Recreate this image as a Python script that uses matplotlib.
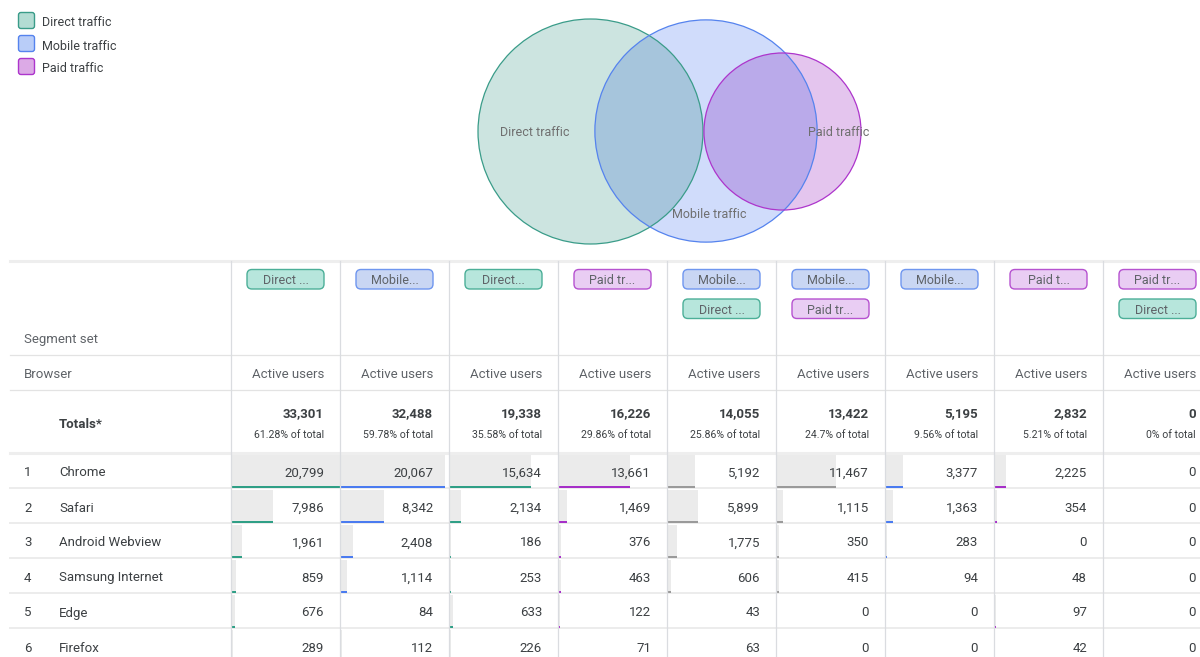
import matplotlib
matplotlib.use("Agg")
import matplotlib.pyplot as plt
from matplotlib.patches import Circle, FancyBboxPatch, Rectangle
from matplotlib.colors import to_rgb

plt.rcParams['font.family'] = ['Roboto', 'DejaVu Sans']

# ---------------- data ----------------
segment_names = ["Direct traffic", "Mobile traffic", "Paid traffic"]
segment_sizes = [33301, 32488, 16226]

col_chips = [["Direct ..."], ["Mobile..."], ["Direct..."], ["Paid tr..."],
             ["Mobile...", "Direct ..."], ["Mobile...", "Paid tr..."],
             ["Mobile..."], ["Paid t..."], ["Paid tr...", "Direct ..."]]
col_chip_kind = [["D"], ["M"], ["D"], ["P"], ["M", "D"], ["M", "P"], ["M"], ["P"], ["P", "D"]]
col_bar_kind = ["D", "M", "D", "P", "G", "G", "M", "P", "P"]
metric = "Active users"
totals = [33301, 32488, 19338, 16226, 14055, 13422, 5195, 2832, 0]
pct_of_total = ["61.28", "59.78", "35.58", "29.86", "25.86", "24.7", "9.56", "5.21", "0"]

browsers = ["Chrome", "Safari", "Android Webview", "Samsung Internet", "Edge", "Firefox"]
chrome = [20799, 20067, 15634, 13661, 5192, 11467, 3377, 2225, 0]
safari = [7986, 8342, 2134, 1469, 5899, 1115, 1363, 354, 0]
android_webview = [1961, 2408, 186, 376, 1775, 350, 283, 0, 0]
samsung_internet = [859, 1114, 253, 463, 606, 415, 94, 48, 0]
edge = [676, 84, 633, 122, 43, 0, 0, 97, 0]
firefox = [289, 112, 226, 71, 63, 0, 0, 42, 0]
rows = [chrome, safari, android_webview, samsung_internet, edge, firefox]

# ---------------- style ----------------
fill = {"D": "#cce4e0", "M": "#d0dcfb", "P": "#e4c5ee"}
edge_c = {"D": "#3a9c89", "M": "#5583ee", "P": "#ad35cc"}
chip_fill = {"D": "#b7e6dc", "M": "#c9d6f3", "P": "#e9cdf3"}
chip_edge = {"D": "#4caf98", "M": "#6f96ef", "P": "#b652d0"}
bar_line = {"D": "#2f9f86", "M": "#4a7bf0", "P": "#a62fc8", "G": "#9a9a9a"}
txt = "#3c4043"
sub = "#5f6368"
grid = "#dadce0"
dy = 2.0  # text baseline nudge (px)


def multiply(c1, c2):
    a, b = to_rgb(c1), to_rgb(c2)
    return tuple(x * y for x, y in zip(a, b))


fig = plt.figure(figsize=(12, 6.57), dpi=100)
ax = fig.add_axes([0, 0, 1, 1])
ax.set_xlim(0, 1200)
ax.set_ylim(657, 0)
ax.axis("off")

# ---------------- legend ----------------
keys = ["D", "M", "P"]
legend_fill = {"D": "#b3dcd3", "M": "#b9cdf8", "P": "#dcaae6"}
for i, (name, k) in enumerate(zip(segment_names, keys)):
    y0 = 12.5 + 23 * i
    ax.add_patch(FancyBboxPatch((18.5, y0), 16, 16, boxstyle="round,pad=0,rounding_size=2.5",
                                fc=legend_fill[k], ec=edge_c[k], lw=1.0))
    ax.text(42, y0 + 8.5 + dy, name, fontsize=9, color=txt, va="center", ha="left")

# ---------------- venn ----------------
scale = 112.5 / segment_sizes[0] ** 0.5
centers = [(590.5, 131.5), (706, 131), (782.5, 131.5)]
radii = [scale * s ** 0.5 for s in segment_sizes]
base = []
for (cx, cy), r, k in zip(centers, radii, keys):
    c = Circle((cx, cy), r, fc=fill[k], ec="none", zorder=2)
    ax.add_patch(c)
    base.append(c)
# overlaps (multiply blend)
for a, b in [(0, 1), (1, 2), (0, 2)]:
    (cx, cy), r = centers[b], radii[b]
    ov = Circle((cx, cy), r, fc=multiply(fill[keys[a]], fill[keys[b]]), ec="none", zorder=2.5)
    ax.add_patch(ov)
    ov.set_clip_path(base[a])
for (cx, cy), r, k in zip(centers, radii, keys):
    ax.add_patch(Circle((cx, cy), r, fc="none", ec=edge_c[k], lw=0.9, zorder=3))
ax.text(535, 131 + dy, "Direct traffic", fontsize=9, color="#6f6f6f", ha="center", va="center", zorder=4)
ax.text(709, 213 + dy, "Mobile traffic", fontsize=9, color="#6f6f6f", ha="center", va="center", zorder=4)
ax.text(839, 131 + dy, "Paid traffic", fontsize=9, color="#6f6f6f", ha="center", va="center", zorder=4)

# ---------------- table ----------------
x0 = 231
cw = 109
top = 261
row_top = 453
rh = 35
ncol = len(totals)

ax.plot([10, 1200], [top, top], color="#eeeeee", lw=2.2, zorder=1)
ax.plot([10, 1200], [355, 355], color="#e3e3e3", lw=0.9, zorder=1)
ax.plot([10, 1200], [390, 390], color="#e3e3e3", lw=0.9, zorder=1)
ax.plot([10, 1200], [row_top, row_top], color="#eeeeee", lw=2.2, zorder=1)
for i in range(1, len(rows)):
    yy = row_top + rh * i
    ax.plot([10, 1200], [yy, yy], color="#ececec", lw=1.4, zorder=1)

for j in range(ncol):
    xx = x0 + cw * j
    ax.plot([xx, xx], [top, 657], color=grid, lw=0.9, zorder=5)

ax.text(24, 338 + dy, "Segment set", fontsize=9.5, color=sub, va="center")
ax.text(24, 373 + dy, "Browser", fontsize=9.5, color=sub, va="center")
ax.text(59, 423 + dy, "Totals*", fontsize=9.5, color=txt, va="center", fontweight="bold")

gmax = max(max(r) for r in rows)
for j in range(ncol):
    left = x0 + cw * j
    right = left + cw
    cx = left + cw / 2
    for m, (label, k) in enumerate(zip(col_chips[j], col_chip_kind[j])):
        w = 77
        ax.add_patch(FancyBboxPatch((cx - w / 2, 269.5 + 29.5 * m), w, 19.5,
                                    boxstyle="round,pad=0,rounding_size=5",
                                    fc=chip_fill[k], ec=chip_edge[k], lw=1.0, zorder=3))
        ax.text(cx, 279.5 + dy * 0.6 + 29.5 * m, label, fontsize=9, color=sub, ha="center",
                va="center", zorder=4)
    ax.text(right - 16, 373 + dy, metric, fontsize=9.5, color=sub, ha="right", va="center")
    ax.text(right - 16, 412 + dy, f"{totals[j]:,}", fontsize=9.5, color=txt, ha="right",
            va="center", fontweight="bold")
    ax.text(right - 16, 433 + dy, f"{pct_of_total[j]}% of total", fontsize=7.6, color=txt,
            ha="right", va="center")

for i, (name, vals) in enumerate(zip(browsers, rows)):
    yt = row_top + rh * i
    yc = yt + rh / 2 + 0.5 + dy
    ax.text(24, yc, str(i + 1), fontsize=9.5, color=txt, va="center")
    ax.text(59, yc, name, fontsize=9.5, color=txt, va="center")
    for j, v in enumerate(vals):
        left = x0 + cw * j + 1
        right = x0 + cw * (j + 1)
        bw = (cw - 1.5) * v / gmax
        if v > 0:
            ax.add_patch(Rectangle((left, yt + 2), bw, rh - 3, fc="#ebebeb", ec="none", zorder=1.5))
            ax.add_patch(Rectangle((left, yt + rh - 2.5), bw, 2.5, fc=bar_line[col_bar_kind[j]],
                                   ec="none", zorder=2))
        ax.text(right - 16, yc, f"{v:,}", fontsize=9.5, color=txt, ha="right", va="center", zorder=4)

fig.savefig("out.png", dpi=100)
